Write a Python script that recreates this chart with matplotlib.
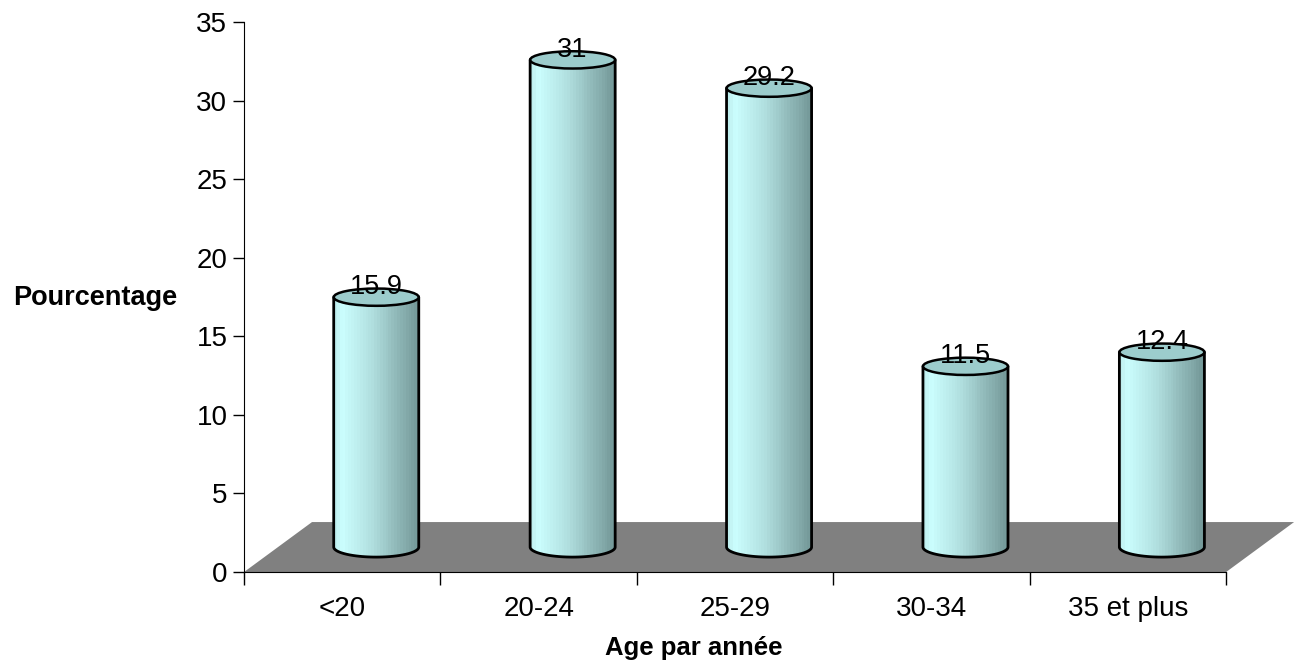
import numpy as np
import matplotlib.pyplot as plt
from matplotlib.patches import Ellipse, Polygon, PathPatch
from matplotlib.path import Path
from matplotlib.colors import LinearSegmentedColormap

# --- Data ---
age_groups = ["<20", "20-24", "25-29", "30-34", "35 et plus"]
pourcentages = [15.9, 31, 29.2, 11.5, 12.4]
y_ticks = [0, 5, 10, 15, 20, 25, 30, 35]

plt.rcParams['font.family'] = ['Liberation Sans', 'DejaVu Sans']

fig = plt.figure(figsize=(13.03, 6.71), dpi=100)
ax = fig.add_axes([0.1873, 0.1475, 0.7537, 0.8197])

# --- 3D look parameters (data units) ---
depth_x, depth_y = 0.346, 3.18
bar_w = 0.433
b_top, b_bot = 0.55, 0.64

# --- Floor ---
n = len(age_groups)
floor = Polygon([(0, 0), (n, 0), (n + depth_x, depth_y), (depth_x, depth_y)],
                closed=True, facecolor='#808080', edgecolor='none',
                clip_on=False, zorder=1)
ax.add_patch(floor)

# --- Cylinders ---
cmap = LinearSegmentedColormap.from_list(
    'cyl', [(0, '#BFEFEF'), (0.08, '#CCFFFF'), (0.45, '#B0DEDE'), (1, '#739797')])
grad = np.linspace(0, 1, 30).reshape(1, -1)

for i, v in enumerate(pourcentages):
    cx = i + 0.5 + depth_x / 2
    base = depth_y / 2
    top = v + depth_y / 2
    x0, x1 = cx - bar_w / 2, cx + bar_w / 2
    t = np.linspace(np.pi, 2 * np.pi, 60)
    arc = np.column_stack([cx + bar_w / 2 * np.cos(t), base + b_bot * np.sin(t)])
    outline = np.vstack([[x0, top], arc, [x1, top]])
    body = PathPatch(Path(np.vstack([outline, [x0, top]])), facecolor='none',
                     edgecolor='none', transform=ax.transData)
    ax.add_patch(body)
    im = ax.imshow(grad, cmap=cmap, aspect='auto', interpolation='nearest',
                   extent=(x0, x1, base - b_bot, top), zorder=2)
    im.set_clip_path(body)
    ax.plot(outline[:, 0], outline[:, 1], color='black', lw=2, zorder=3,
            solid_capstyle='round', clip_on=False)
    ax.add_patch(Ellipse((cx, top), bar_w, 2 * b_top, facecolor='#9CCCCC',
                         edgecolor='black', lw=1.8, zorder=4, clip_on=False))
    ax.text(cx, top + 0.65, f"{v:g}", ha='center', va='center', fontsize=19.5, zorder=5)

ax.set_xlim(0, n)
ax.set_ylim(0, 35)

# --- Axes styling ---
for s in ['top', 'right']:
    ax.spines[s].set_visible(False)
ax.spines['left'].set_zorder(6)
ax.spines['bottom'].set_zorder(6)

ax.set_xticks(range(n + 1))
ax.set_xticklabels([])
ax.tick_params(axis='x', which='major', length=9.4, width=1)
ax.set_xticks(np.arange(n) + 0.5, minor=True)
ax.set_xticklabels(age_groups, minor=True, fontsize=20)
ax.tick_params(axis='x', which='minor', length=0, pad=17.5)

ax.set_yticks(y_ticks)
ax.tick_params(axis='y', length=8, width=1, pad=4, labelsize=20)

fig.text(694 / 1303, 1 - 648 / 671, "Age par année", ha='center', va='center',
         fontsize=18.5, fontweight='bold')
fig.text(95 / 1303, 1 - 298 / 671, "Pourcentage", ha='center', va='center',
         fontsize=19.5, fontweight='bold')

plt.savefig("out.png", dpi=100)
